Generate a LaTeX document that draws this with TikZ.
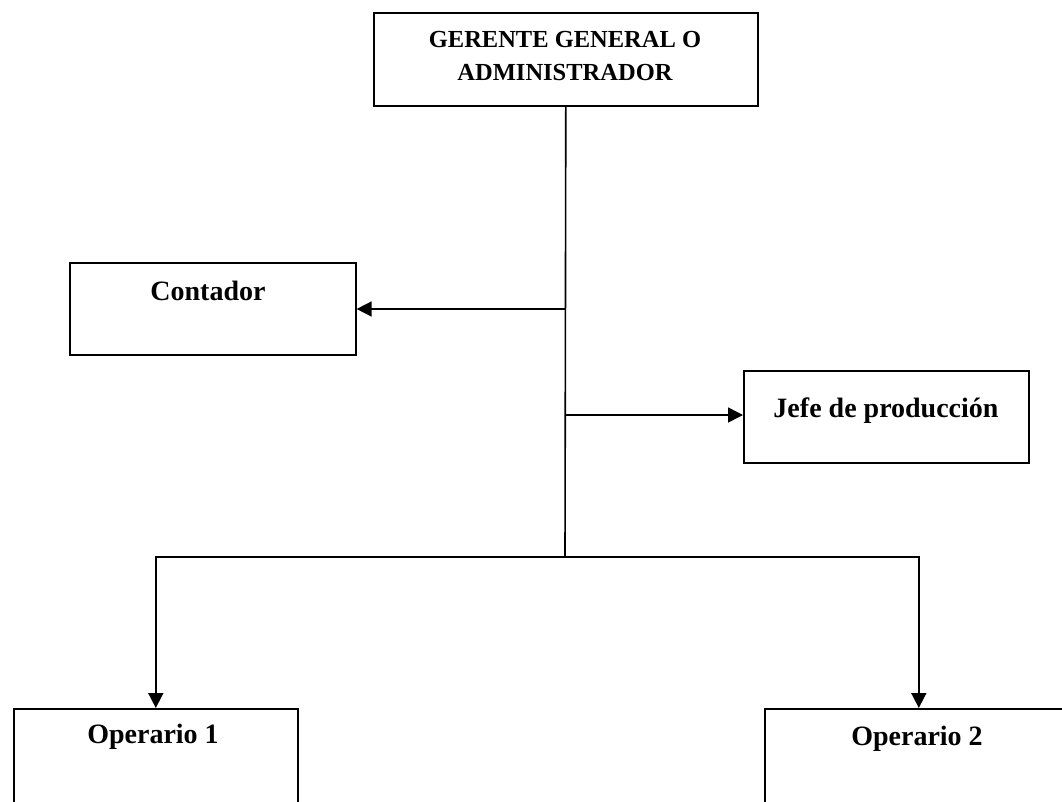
\documentclass[tikz,border=0pt]{standalone}
\usepackage{fontspec}
\setmainfont{Liberation Serif}
\usetikzlibrary{arrows.meta}
\begin{document}
\begin{tikzpicture}[x=1bp,y=-1bp,
  box/.style={draw=black,line width=1.6bp,rectangle,inner sep=0pt,anchor=north west},
  lbl/.style={font=\bfseries\fontsize{28bp}{33bp}\selectfont,inner sep=0pt,anchor=base},
  toplbl/.style={font=\bfseries\fontsize{24.5bp}{33bp}\selectfont,inner sep=0pt,anchor=north,align=center},
  conn/.style={line width=1.6bp},
  arr/.style={line width=1.6bp,-{Triangle[length=15bp,width=15bp]}}]
\useasboundingbox (0,0) rectangle (1062,802);
\clip (0,0) rectangle (1062,802);
\fill[white] (0,0) rectangle (1062,802);
% boxes
\node[box,minimum width=384bp,minimum height=93bp] (ger) at (373,12) {};
\node[box,minimum width=286bp,minimum height=92bp] (cont) at (69,262) {};
\node[box,minimum width=285bp,minimum height=92bp] (jefe) at (743,370) {};
\node[box,minimum width=284bp,minimum height=150bp] (op1) at (13,708) {};
\node[box,minimum width=308bp,minimum height=150bp] (op2) at (764,708) {};
% labels
\node[toplbl] (gerT) at (565,31) {GERENTE GENERAL O\\ADMINISTRADOR};
\node[lbl] (contT) at (208,300) {Contador};
\node[lbl] (jefeT) at (886,417) {Jefe de producción};
\node[lbl] (op1T) at (153,743) {Operario 1};
\node[lbl] (op2T) at (917,745) {Operario 2};
% connectors
\coordinate (j1) at (565,309);
\coordinate (j2) at (565,415);
\coordinate (j3) at (565,557);
\draw[conn] (ger.south) -- (j3);
\draw[arr] (j1) -- (cont.east |- j1);
\draw[arr] (j2) -- (jefe.west |- j2);
\draw[arr] (j3) -| (op1.north);
\draw[arr] (j3) -| (op2.north);
\end{tikzpicture}
\end{document}
